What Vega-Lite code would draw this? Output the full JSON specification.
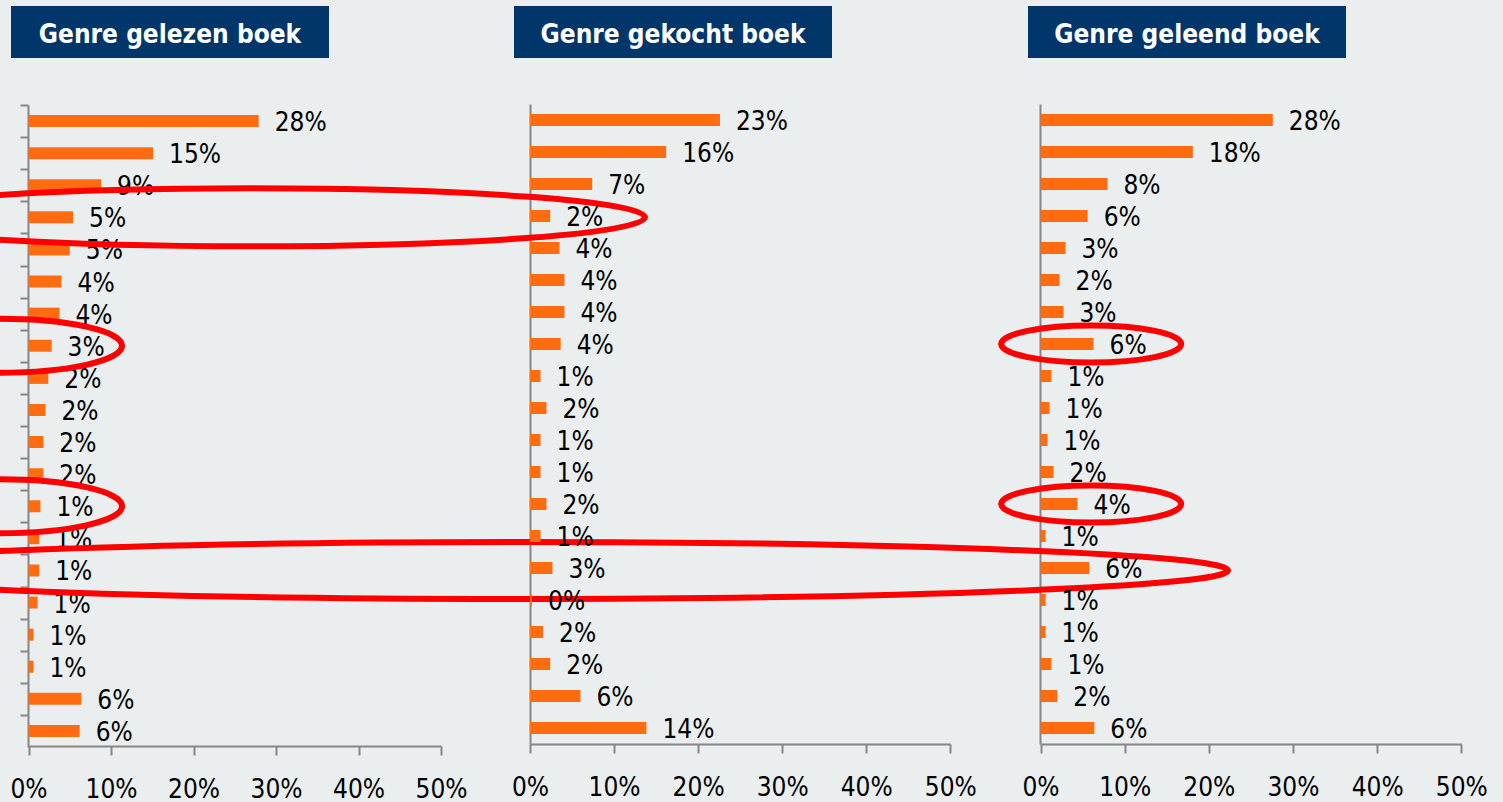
{
  "$schema": "https://vega.github.io/schema/vega-lite/v6.json",
  "width": 1503,
  "height": 802,
  "autosize": {"type": "none"},
  "padding": 0,
  "background": "#eaeeef",
  "config": {
    "view": {"stroke": null},
    "font": "DejaVu Sans Condensed, DejaVu Sans, sans-serif",
    "axis": {
      "domainColor": "#868686",
      "domainWidth": 2,
      "tickColor": "#868686",
      "tickWidth": 2,
      "grid": false,
      "title": null,
      "labelFont": "DejaVu Sans Condensed, DejaVu Sans, sans-serif",
      "labelFontSize": 26,
      "labelColor": "#000000",
      "labelFlush": false,
      "labelOverlap": false
    }
  },
  "data": {
    "values": [
      {"rij": 1, "gelezen": 0.279, "gekocht": 0.226, "geleend": 0.276},
      {"rij": 2, "gelezen": 0.151, "gekocht": 0.162, "geleend": 0.181},
      {"rij": 3, "gelezen": 0.088, "gekocht": 0.074, "geleend": 0.0796},
      {"rij": 4, "gelezen": 0.054, "gekocht": 0.024, "geleend": 0.056},
      {"rij": 5, "gelezen": 0.05, "gekocht": 0.035, "geleend": 0.0297},
      {"rij": 6, "gelezen": 0.04, "gekocht": 0.041, "geleend": 0.0226},
      {"rij": 7, "gelezen": 0.0375, "gekocht": 0.041, "geleend": 0.0273},
      {"rij": 8, "gelezen": 0.028, "gekocht": 0.0365, "geleend": 0.063},
      {"rij": 9, "gelezen": 0.024, "gekocht": 0.0125, "geleend": 0.013},
      {"rij": 10, "gelezen": 0.0206, "gekocht": 0.0196, "geleend": 0.0107},
      {"rij": 11, "gelezen": 0.018, "gekocht": 0.0125, "geleend": 0.0083},
      {"rij": 12, "gelezen": 0.018, "gekocht": 0.0125, "geleend": 0.0155},
      {"rij": 13, "gelezen": 0.0145, "gekocht": 0.0196, "geleend": 0.044},
      {"rij": 14, "gelezen": 0.013, "gekocht": 0.0125, "geleend": 0.006},
      {"rij": 15, "gelezen": 0.013, "gekocht": 0.0267, "geleend": 0.058},
      {"rij": 16, "gelezen": 0.011, "gekocht": 0.0024, "geleend": 0.006},
      {"rij": 17, "gelezen": 0.006, "gekocht": 0.0155, "geleend": 0.006},
      {"rij": 18, "gelezen": 0.006, "gekocht": 0.024, "geleend": 0.013},
      {"rij": 19, "gelezen": 0.064, "gekocht": 0.06, "geleend": 0.02},
      {"rij": 20, "gelezen": 0.062, "gekocht": 0.1385, "geleend": 0.064}
    ]
  },
  "layer": [
    {
      "data": {"values": [{"titel": "Genre gelezen boek"}]},
      "encoding": {
        "x": {"field": "titel", "type": "nominal",
              "scale": {"range": [11, 329], "paddingInner": 0, "paddingOuter": 0}, "axis": null},
        "y": {"datum": "kop", "type": "nominal",
              "scale": {"range": [6, 58], "paddingInner": 0, "paddingOuter": 0}, "axis": null}
      },
      "layer": [
        {"mark": {"type": "bar", "color": "#01366b"}},
        {"mark": {"type": "text", "color": "#ffffff", "fontWeight": "bold", "fontSize": 26, "baseline": "middle", "dy": 3},
         "encoding": {"text": {"field": "titel"}}}
      ]
    },
    {
      "data": {"values": [{"titel": "Genre gekocht boek"}]},
      "encoding": {
        "x": {"field": "titel", "type": "nominal",
              "scale": {"range": [514, 832], "paddingInner": 0, "paddingOuter": 0}, "axis": null},
        "y": {"datum": "kop", "type": "nominal",
              "scale": {"range": [6, 58], "paddingInner": 0, "paddingOuter": 0}, "axis": null}
      },
      "layer": [
        {"mark": {"type": "bar", "color": "#01366b"}},
        {"mark": {"type": "text", "color": "#ffffff", "fontWeight": "bold", "fontSize": 26, "baseline": "middle", "dy": 3},
         "encoding": {"text": {"field": "titel"}}}
      ]
    },
    {
      "data": {"values": [{"titel": "Genre geleend boek"}]},
      "encoding": {
        "x": {"field": "titel", "type": "nominal",
              "scale": {"range": [1028, 1346], "paddingInner": 0, "paddingOuter": 0}, "axis": null},
        "y": {"datum": "kop", "type": "nominal",
              "scale": {"range": [6, 58], "paddingInner": 0, "paddingOuter": 0}, "axis": null}
      },
      "layer": [
        {"mark": {"type": "bar", "color": "#01366b"}},
        {"mark": {"type": "text", "color": "#ffffff", "fontWeight": "bold", "fontSize": 26, "baseline": "middle", "dy": 3},
         "encoding": {"text": {"field": "titel"}}}
      ]
    },
    {
      "encoding": {
        "x": {"field": "gelezen", "type": "quantitative",
              "scale": {"domain": [0, 0.5], "range": [28.5, 441], "nice": false},
              "axis": {"orient": "bottom", "offset": -56, "values": [0, 0.1, 0.2, 0.3, 0.4, 0.5], "format": ".0%", "tickSize": 9, "labelPadding": 21}},
        "y": {"field": "rij", "type": "ordinal",
              "scale": {"range": [105, 747], "paddingInner": 0.625, "paddingOuter": 0.3125},
              "axis": {"orient": "left", "offset": -28, "labels": false, "tickOffset": -16.05, "tickSize": 8}}
      },
      "layer": [
        {"mark": {"type": "bar", "color": "#ff6c10"}},
        {"mark": {"type": "text", "align": "left", "baseline": "middle", "dx": 16, "dy": 2, "fontSize": 26, "color": "#000000"},
         "encoding": {"text": {"field": "gelezen", "type": "quantitative", "format": ".0%"}}},
        {"data": {"values": [{"rij": 4, "markering": 0.2685}]},
         "mark": {"type": "point", "shape": "M-1,0C-1,-0.0405,-0.5523,-0.0734,0,-0.0734C0.5523,-0.0734,1,-0.0405,1,0C1,0.0405,0.5523,0.0734,0,0.0734C-0.5523,0.0734,-1,0.0405,-1,0Z", "size": 624100, "filled": false, "color": "#ff0000", "strokeWidth": 6, "opacity": 1},
         "encoding": {"x": {"field": "markering", "type": "quantitative"}, "y": {"field": "rij", "type": "ordinal"}}},
        {"data": {"values": [{"rij": 15, "markering": 0.5958}]},
         "mark": {"type": "point", "shape": "M-1,0C-1,-0.0223,-0.5523,-0.0403,0,-0.0403C0.5523,-0.0403,1,-0.0223,1,0C1,0.0223,0.5523,0.0403,0,0.0403C-0.5523,0.0403,-1,0.0223,-1,0Z", "size": 2005056, "filled": false, "color": "#ff0000", "strokeWidth": 6, "opacity": 1},
         "encoding": {"x": {"field": "markering", "type": "quantitative"}, "y": {"field": "rij", "type": "ordinal"}}},
        {"data": {"values": [{"rij": 8, "markering": -0.0345}, {"rij": 13, "markering": -0.0345}]},
         "mark": {"type": "point", "shape": "M-1,0C-1,-0.1221,-0.5523,-0.221,0,-0.221C0.5523,-0.221,1,-0.1221,1,0C1,0.1221,0.5523,0.221,0,0.221C-0.5523,0.221,-1,0.1221,-1,0Z", "size": 59536, "filled": false, "color": "#ff0000", "strokeWidth": 6, "opacity": 1},
         "encoding": {"x": {"field": "markering", "type": "quantitative"}, "y": {"field": "rij", "type": "ordinal"}}}
      ]
    },
    {
      "encoding": {
        "x": {"field": "gekocht", "type": "quantitative",
              "scale": {"domain": [0, 0.5], "range": [530, 950.3], "nice": false},
              "axis": {"orient": "bottom", "offset": -58, "values": [0, 0.1, 0.2, 0.3, 0.4, 0.5], "format": ".0%", "tickSize": 9, "labelPadding": 21}},
        "y": {"field": "rij", "type": "ordinal",
              "scale": {"range": [104, 744], "paddingInner": 0.625, "paddingOuter": 0.3125},
              "axis": {"orient": "left", "offset": -530, "labels": false, "ticks": false}}
      },
      "layer": [
        {"mark": {"type": "bar", "color": "#ff6c10"}},
        {"mark": {"type": "text", "align": "left", "baseline": "middle", "dx": 16, "dy": 2, "fontSize": 26, "color": "#000000"},
         "encoding": {"text": {"field": "gekocht", "type": "quantitative", "format": ".0%"}}}
      ]
    },
    {
      "encoding": {
        "x": {"field": "geleend", "type": "quantitative",
              "scale": {"domain": [0, 0.5], "range": [1040.5, 1461.3], "nice": false},
              "axis": {"orient": "bottom", "offset": -58, "values": [0, 0.1, 0.2, 0.3, 0.4, 0.5], "format": ".0%", "tickSize": 9, "labelPadding": 21}},
        "y": {"field": "rij", "type": "ordinal",
              "scale": {"range": [104, 744], "paddingInner": 0.625, "paddingOuter": 0.3125},
              "axis": {"orient": "left", "offset": -1040, "labels": false, "ticks": false}}
      },
      "layer": [
        {"mark": {"type": "bar", "color": "#ff6c10"}},
        {"mark": {"type": "text", "align": "left", "baseline": "middle", "dx": 16, "dy": 2, "fontSize": 26, "color": "#000000"},
         "encoding": {"text": {"field": "geleend", "type": "quantitative", "format": ".0%"}}},
        {"data": {"values": [{"rij": 8, "markering": 0.0602}, {"rij": 13, "markering": 0.0602}]},
         "mark": {"type": "point", "shape": "M-1,0C-1,-0.1138,-0.5523,-0.206,0,-0.206C0.5523,-0.206,1,-0.1138,1,0C1,0.1138,0.5523,0.206,0,0.206C-0.5523,0.206,-1,0.1138,-1,0Z", "size": 32400, "filled": false, "color": "#ff0000", "strokeWidth": 6, "opacity": 1},
         "encoding": {"x": {"field": "markering", "type": "quantitative"}, "y": {"field": "rij", "type": "ordinal"}}}
      ]
    }
  ],
  "resolve": {
    "scale": {"x": "independent", "y": "independent"},
    "axis": {"x": "independent", "y": "independent"}
  }
}
